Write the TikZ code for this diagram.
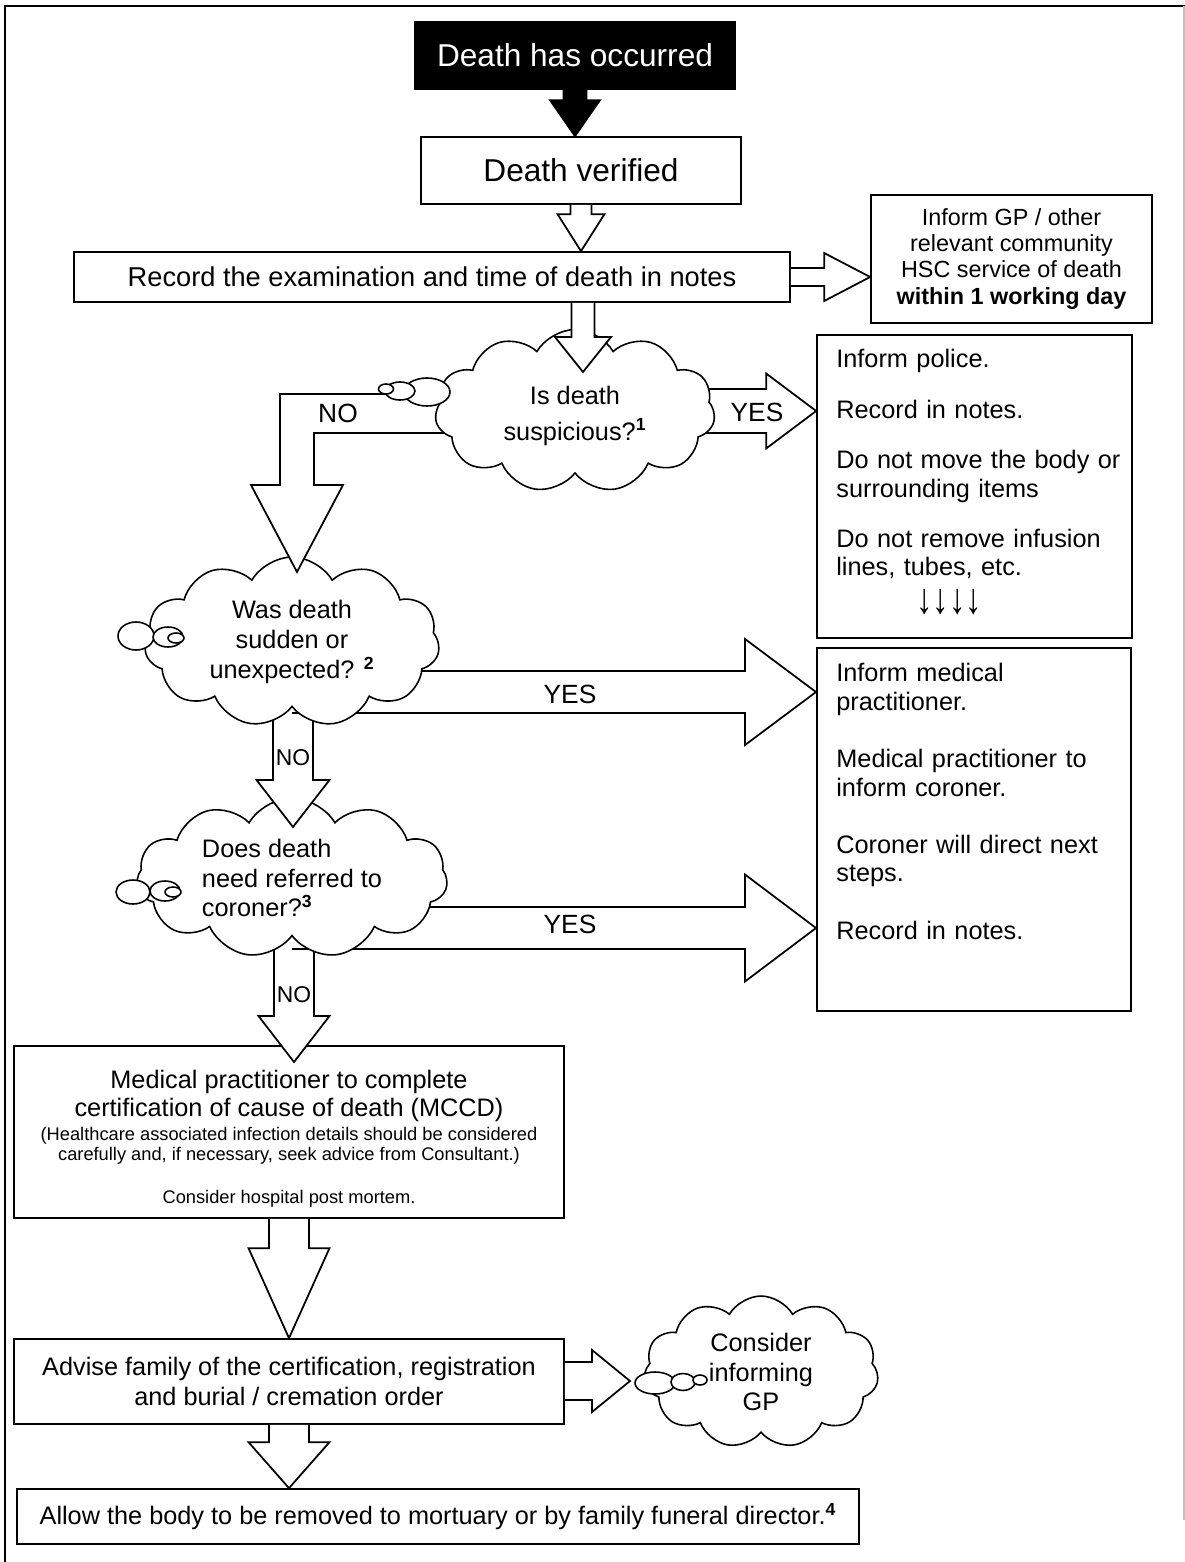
\documentclass[tikz,border=0pt]{standalone}
\usepackage{fontspec}
\setmainfont{Liberation Sans}
\usetikzlibrary{calc,shapes.symbols}

\tikzset{
  box/.style={draw, line width=1pt, fill=white, inner sep=0pt},
  hollow/.style={draw, fill=white, line width=1pt, line join=miter},
  solidarrow/.style={draw, fill=black, line width=1pt},
  cloudy/.style={cloud, cloud puffs=11, cloud puff arc=120, cloud ignores aspect,
    draw, fill=white, line width=0.9pt, inner sep=0pt, align=center,
    font=\fontsize{14.4}{17}\selectfont},
  bubble/.style={draw, fill=white, line width=0.9pt},
  lbl/.style={inner sep=0pt, font=\fontsize{15}{17}\selectfont},
  body/.style={inner sep=0pt, align=left, text width=6cm, font=\fontsize{14.4}{16.2}\selectfont},
}

% block arrows: [style]{from}{tip}{shaft half width}{head half width}{head length}
\newcommand{\blockdown}[6][hollow]{%
  \draw[#1] let \p1=(#2), \p2=(#3) in
    (\x2-#4,\y1) -- (\x2-#4,\y2+#6) -- (\x2-#5,\y2+#6) -- (\x2,\y2)
    -- (\x2+#5,\y2+#6) -- (\x2+#4,\y2+#6) -- (\x2+#4,\y1);}
\newcommand{\blockright}[6][hollow]{%
  \draw[#1] let \p1=(#2), \p2=(#3) in
    (\x1,\y2+#4) -- (\x2-#6,\y2+#4) -- (\x2-#6,\y2+#5) -- (\x2,\y2)
    -- (\x2-#6,\y2-#5) -- (\x2-#6,\y2-#4) -- (\x1,\y2-#4);}

\begin{document}
\begin{tikzpicture}[x=0.02cm, y=-0.02cm]
\useasboundingbox (0,0) rectangle (1185,1562);
% frame
\draw[line width=1.2pt] (5,1562) -- (5,6) -- (1185,6);
\draw[gray!50, line width=0.6pt] (1184,6) -- (1184,1520);

% boxes
\node[box, fill=black, text=white, minimum width=6.4cm, minimum height=1.34cm,
  font=\fontsize{18}{20}\selectfont] (occurred) at (575,55.5) {Death has occurred};
\node[box, minimum width=6.4cm, minimum height=1.34cm,
  font=\fontsize{18}{20}\selectfont] (verified) at (581,170.5) {Death verified};
\node[box, minimum width=14.32cm, minimum height=1cm,
  font=\fontsize{15.5}{17}\selectfont] (record) at (432,277)
  {Record the examination and time of death in notes};
\node[box, minimum width=5.62cm, minimum height=2.56cm, align=center,
  font=\fontsize{13.3}{14.8}\selectfont] (gp) at (1011.5,259)
  {Inform GP / other\\relevant community\\HSC service of death\\\textbf{within 1 working day}};

\node[box, minimum width=6.3cm, minimum height=6.06cm] (police) at (974.5,486.5) {};
\node[body, anchor=north west] (policetext) at (836,349)
  {Inform police.\\[12.5pt]
   Record in notes.\\[12.5pt]
   Do not move the body or\\
   surrounding items\\[12.5pt]
   \makebox[5.58cm][s]{Do not remove infusion}\\
   lines, tubes, etc.\\[5pt]
   \hspace*{1.6cm}\scalebox{1.3}[1.7]{↓↓↓↓}};

\node[box, minimum width=6.28cm, minimum height=7.26cm] (medical) at (974,829.5) {};
\node[body, anchor=north west] (medicaltext) at (836,663)
  {Inform medical\\
   practitioner.\\[16.5pt]
   Medical practitioner to\\
   inform coroner.\\[16.5pt]
   Coroner will direct next\\
   steps.\\[16.5pt]
   Record in notes.};

\node[box, minimum width=11cm, minimum height=3.44cm, align=center,
  font=\fontsize{14.4}{16}\selectfont] (mccd) at (289,1132)
  {\rule{0pt}{18pt}Medical practitioner to complete\\
   certification of cause of death (MCCD)\\[-2.3pt]
   {\fontsize{10.4}{11.4}\selectfont (Healthcare associated infection details should be considered}\\[-4.6pt]
   {\fontsize{10.4}{11.4}\selectfont carefully and, if necessary, seek advice from Consultant.)}\\[8pt]
   {\fontsize{10.4}{11.4}\selectfont Consider hospital post mortem.}};
\node[box, minimum width=11cm, minimum height=1.7cm, align=center,
  font=\fontsize{14.4}{17}\selectfont] (advise) at (289,1381.5)
  {Advise family of the certification, registration\\and burial / cremation order};
\node[box, minimum width=16.84cm, minimum height=1.1cm,
  font=\fontsize{14.4}{17}\selectfont] (allow) at (438,1516.5)
  {Allow the body to be removed to mortuary or by family funeral director.\textsuperscript{\textbf{4}}};

% cloud centres and arrow tips
\coordinate (c1pos) at (575,411);
\coordinate (c2pos) at (292,642);
\coordinate (c3pos) at (292,878);
\coordinate (t3) at (583,372);
\coordinate (t4) at (297,572);
\coordinate (t7) at (816,692);
\coordinate (t8) at (816,928);
\coordinate (t9) at (293,827);
\coordinate (t10) at (294,1062);
\coordinate (t12) at (630,1381);

% straight arrows between boxes
\blockdown[solidarrow]{occurred.south}{occurred.south |- verified.north}{0.23cm}{0.5cm}{0.72cm}
\blockdown{verified.south}{verified.south |- record.north}{0.21cm}{0.47cm}{0.74cm}
\blockright{record.east}{gp.west |- record.east}{0.18cm}{0.48cm}{0.92cm}
\blockdown{mccd.south}{mccd.south |- advise.north}{0.4cm}{0.81cm}{1.8cm}
\blockdown{advise.south}{advise.south |- allow.north}{0.4cm}{0.81cm}{0.92cm}

% coroner question
\blockdown{c3pos}{t10}{0.4cm}{0.71cm}{0.92cm}
\blockright{c3pos}{t8}{0.42cm}{1.07cm}{1.42cm}
\node[cloudy, minimum width=6.22cm, minimum height=3.2cm, align=left] (c3) at (c3pos)
  {Does death\\need referred to\\coroner?\textsuperscript{\textbf{3}}};
\draw[bubble] (133,892) ellipse [x radius=0.34cm, y radius=0.24cm];
\draw[bubble] (165,891) ellipse [x radius=0.3cm, y radius=0.2cm];
\draw[bubble] (173,892) ellipse [x radius=0.16cm, y radius=0.1cm];

% sudden question
\blockdown{c2pos}{t9}{0.4cm}{0.73cm}{0.94cm}
\blockright{c2pos}{t7}{0.42cm}{1.06cm}{1.42cm}
\node[cloudy, minimum width=5.9cm, minimum height=3.4cm] (c2) at (c2pos)
  {Was death\\sudden or\\unexpected? \textsuperscript{\textbf{2}}};
\draw[bubble] (136,636) ellipse [x radius=0.36cm, y radius=0.28cm];
\draw[bubble] (168,637) ellipse [x radius=0.3cm, y radius=0.2cm];
\draw[bubble] (176,638) ellipse [x radius=0.16cm, y radius=0.1cm];

% suspicious question
\draw[hollow] (c1pos |- 0,394) -- (280,394) -- (280,485) -- (251,485) -- (t4)
  -- (343,485) -- (314,485) -- (314,433) -- (c1pos |- 0,433);
\blockright{c1pos}{police.west |- c1pos}{0.44cm}{0.75cm}{1cm}
\node[cloudy, minimum width=5.6cm, minimum height=3.26cm] (c1) at (c1pos)
  {\rule{0pt}{16pt}Is death\\[3pt]suspicious?\textsuperscript{\textbf{1}}};
\draw[bubble] (427,392) ellipse [x radius=0.46cm, y radius=0.28cm];
\draw[bubble] (400,391) ellipse [x radius=0.3cm, y radius=0.18cm];
\draw[bubble] (386,389) ellipse [x radius=0.15cm, y radius=0.1cm];
\blockdown{record.south}{t3}{0.23cm}{0.56cm}{0.7cm}

% inform GP cloud
\node[cloudy, minimum width=4.7cm, minimum height=3.04cm] (c4) at (761,1372)
  {Consider\\informing\\GP};
\draw[bubble] (655,1383) ellipse [x radius=0.4cm, y radius=0.22cm];
\draw[bubble] (683,1382) ellipse [x radius=0.24cm, y radius=0.17cm];
\draw[bubble] (700,1380) ellipse [x radius=0.14cm, y radius=0.1cm];
\blockright{advise.east}{t12}{0.38cm}{0.62cm}{0.76cm}

% labels
\node[lbl] (no1) at (338,413) {NO};
\node[lbl] (yes1) at (757,412) {YES};
\node[lbl] (yes2) at (570,694) {YES};
\node[lbl] (yes3) at (570,924) {YES};
\node[lbl, font=\fontsize{13}{15}\selectfont] (no2) at (293,758) {NO};
\node[lbl, font=\fontsize{13}{15}\selectfont] (no3) at (294,995) {NO};
\end{tikzpicture}
\end{document}
